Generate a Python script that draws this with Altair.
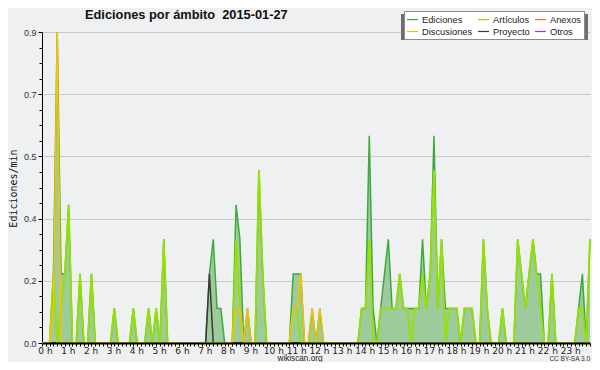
import altair as alt
import pandas as pd

# 10-minute bins over the day (00:00 .. 24:00)
minutes = list(range(0, 1441, 10))

ediciones = [
    0, 0, 0, 0.2, 0.9, 0.2, 0.2, 0.4, 0, 0, 0.2, 0,
    0, 0.2, 0, 0, 0, 0, 0, 0.1, 0, 0, 0, 0,
    0.1, 0, 0, 0, 0.1, 0, 0.1, 0, 0.3, 0, 0, 0,
    0, 0, 0, 0, 0, 0, 0, 0, 0.2, 0.3, 0.1, 0.1,
    0, 0, 0, 0.4, 0.3, 0, 0.1, 0, 0, 0.5, 0.2, 0,
    0, 0, 0, 0, 0, 0, 0.2, 0.2, 0.2, 0, 0, 0.1,
    0, 0.1, 0, 0, 0, 0, 0, 0, 0, 0, 0, 0,
    0.1, 0.1, 0.6, 0.1, 0, 0.1, 0.2, 0.3, 0.1, 0.1, 0.2, 0.1,
    0.1, 0.1, 0.1, 0.1, 0.3, 0.1, 0.2, 0.6, 0.1, 0.3, 0.1, 0.1,
    0.1, 0.1, 0, 0.1, 0.1, 0.1, 0, 0, 0.3, 0.1, 0, 0,
    0, 0.1, 0, 0, 0, 0.3, 0.2, 0.1, 0.2, 0.3, 0.2, 0.2,
    0, 0, 0.2, 0, 0, 0, 0, 0, 0, 0.1, 0.2, 0,
    0.3,
]

articulos = [
    0, 0, 0, 0.2, 0, 0.1, 0.2, 0.4, 0, 0, 0.2, 0,
    0, 0.2, 0, 0, 0, 0, 0, 0.1, 0, 0, 0, 0,
    0.1, 0, 0, 0, 0.1, 0, 0.1, 0, 0.3, 0, 0, 0,
    0, 0, 0, 0, 0, 0, 0, 0, 0, 0, 0, 0,
    0, 0, 0, 0.3, 0.1, 0, 0, 0, 0, 0.5, 0.2, 0,
    0, 0, 0, 0, 0, 0, 0.1, 0.1, 0, 0, 0, 0,
    0, 0, 0, 0, 0, 0, 0, 0, 0, 0, 0, 0,
    0.1, 0.1, 0.3, 0, 0, 0.1, 0.1, 0.1, 0.1, 0.1, 0.2, 0.1,
    0.1, 0, 0.1, 0.1, 0.2, 0.1, 0.2, 0.5, 0.1, 0.3, 0, 0.1,
    0.1, 0.1, 0, 0.1, 0.1, 0.1, 0, 0, 0.3, 0.1, 0, 0,
    0, 0.1, 0, 0, 0, 0.3, 0.2, 0.1, 0.2, 0.3, 0.2, 0.1,
    0, 0, 0.2, 0, 0, 0, 0, 0, 0, 0.1, 0.1, 0,
    0.3,
]

discusiones = [
    0, 0, 0, 0.1, 0.9, 0, 0, 0, 0, 0, 0, 0,
    0, 0, 0, 0, 0, 0, 0, 0, 0, 0, 0, 0,
    0, 0, 0, 0, 0, 0, 0, 0, 0, 0, 0, 0,
    0, 0, 0, 0, 0, 0, 0, 0, 0, 0, 0, 0,
    0, 0, 0, 0.1, 0.1, 0, 0.1, 0, 0, 0, 0, 0,
    0, 0, 0, 0, 0, 0, 0.1, 0.1, 0.2, 0, 0, 0.1,
    0, 0.1, 0, 0, 0, 0, 0, 0, 0, 0, 0, 0,
    0, 0, 0, 0, 0, 0, 0, 0, 0, 0, 0, 0,
    0, 0, 0, 0, 0, 0, 0, 0, 0, 0, 0, 0,
    0, 0, 0, 0, 0, 0, 0, 0, 0, 0, 0, 0,
    0, 0, 0, 0, 0, 0, 0, 0, 0, 0, 0, 0,
    0, 0, 0, 0, 0, 0, 0, 0, 0, 0, 0, 0,
    0,
]

proyecto = [
    0, 0, 0, 0, 0, 0, 0, 0, 0, 0, 0, 0,
    0, 0, 0, 0, 0, 0, 0, 0, 0, 0, 0, 0,
    0, 0, 0, 0, 0, 0, 0, 0, 0, 0, 0, 0,
    0, 0, 0, 0, 0, 0, 0, 0, 0.2, 0, 0, 0,
    0, 0, 0, 0, 0, 0, 0, 0, 0, 0, 0, 0,
    0, 0, 0, 0, 0, 0, 0, 0, 0, 0, 0, 0,
    0, 0, 0, 0, 0, 0, 0, 0, 0, 0, 0, 0,
    0, 0, 0, 0, 0, 0, 0, 0, 0, 0, 0, 0,
    0, 0, 0, 0, 0, 0, 0, 0, 0, 0, 0, 0,
    0, 0, 0, 0, 0, 0, 0, 0, 0, 0, 0, 0,
    0, 0, 0, 0, 0, 0, 0, 0, 0, 0, 0, 0,
    0, 0, 0, 0, 0, 0, 0, 0, 0, 0, 0, 0,
    0,
]

anexos = [
    0, 0, 0, 0, 0, 0, 0, 0, 0, 0, 0, 0,
    0, 0, 0, 0, 0, 0, 0, 0, 0, 0, 0, 0,
    0, 0, 0, 0, 0, 0, 0, 0, 0, 0, 0, 0,
    0, 0, 0, 0, 0, 0, 0, 0, 0, 0, 0, 0,
    0, 0, 0, 0, 0, 0, 0, 0, 0, 0, 0, 0,
    0, 0, 0, 0, 0, 0, 0, 0, 0, 0, 0, 0,
    0, 0, 0, 0, 0, 0, 0, 0, 0, 0, 0, 0,
    0, 0, 0, 0, 0, 0, 0, 0, 0, 0, 0, 0,
    0, 0, 0, 0, 0, 0, 0, 0, 0, 0, 0, 0,
    0, 0, 0, 0, 0, 0, 0, 0, 0, 0, 0, 0,
    0, 0, 0, 0, 0, 0, 0, 0, 0, 0, 0, 0,
    0, 0, 0, 0, 0, 0, 0, 0, 0, 0, 0, 0,
    0,
]

otros = [
    0, 0, 0, 0, 0, 0, 0, 0, 0, 0, 0, 0,
    0, 0, 0, 0, 0, 0, 0, 0, 0, 0, 0, 0,
    0, 0, 0, 0, 0, 0, 0, 0, 0, 0, 0, 0,
    0, 0, 0, 0, 0, 0, 0, 0, 0, 0, 0, 0,
    0, 0, 0, 0, 0, 0, 0, 0, 0, 0, 0, 0,
    0, 0, 0, 0, 0, 0, 0, 0, 0, 0, 0, 0,
    0, 0, 0, 0, 0, 0, 0, 0, 0, 0, 0, 0,
    0, 0, 0, 0, 0, 0, 0, 0, 0, 0, 0, 0,
    0, 0, 0, 0, 0, 0, 0, 0, 0, 0, 0, 0,
    0, 0, 0, 0, 0, 0, 0, 0, 0, 0, 0, 0,
    0, 0, 0, 0, 0, 0, 0, 0, 0, 0, 0, 0,
    0, 0, 0, 0, 0, 0, 0, 0, 0, 0, 0, 0,
    0,
]

# legend order (filled column by column: 2 rows x 3 columns)
series_names = ["Ediciones", "Discusiones", "Artículos", "Proyecto", "Anexos", "Otros"]
series_colors = ["#3daa3d", "#f7c200", "#97e000", "#3a3a3a", "#ff6a33", "#8a3ff0"]
draw_order = ["Ediciones", "Anexos", "Otros", "Proyecto", "Artículos", "Discusiones"]

title_text = "Ediciones por ámbito\u00a0\u00a02015-01-27"
footer_text = "wikiscan.org"
license_text = "CC BY-SA 3.0"
y_title = "Ediciones/min"

wide = pd.DataFrame({
    "minuto": minutes,
    "Ediciones": ediciones,
    "Artículos": articulos,
    "Anexos": anexos,
    "Discusiones": discusiones,
    "Proyecto": proyecto,
    "Otros": otros,
})
wide["hora"] = wide["minuto"] / 60.0
long = wide.melt(id_vars=["minuto", "hora"], value_vars=series_names,
                 var_name="serie", value_name="valor")

x_ticks = [m / 60.0 for m in minutes]
y_ticks = [round(k * 0.045, 3) for k in range(21)]
major_test = "round(datum.value / 0.045) % 4 == 0"

x_enc = alt.X(
    "hora:Q",
    scale=alt.Scale(domain=[0, 24], nice=False, zero=False),
    axis=alt.Axis(
        values=x_ticks,
        labelExpr="datum.value % 1 == 0 && datum.value < 24 ? datum.value + ' h' : ''",
        title=None,
        labelFont="DejaVu Sans",
        labelFontSize=9,
        labelColor="#222222",
        labelOffset=3,
        labelPadding=0,
        labelOverlap=False,
        labelFlush=False,
        tickSize=3,
        tickColor="#000000",
        tickWidth=1,
        domainColor="#000000",
        domainWidth=2,
        grid=False,
        zindex=1,
    ),
)

y_enc = alt.Y(
    "valor:Q",
    scale=alt.Scale(domain=[0, 0.9], nice=False),
    axis=alt.Axis(
        values=y_ticks,
        labelExpr=major_test + " ? format(datum.value, '.1f') : ''",
        title=y_title,
        titleFont="DejaVu Sans Mono",
        titleFontSize=10,
        titleFontWeight="normal",
        titleColor="#111111",
        titleX=-29,
        titleY=156,
        titleAngle=270,
        titleAlign="center",
        titleBaseline="middle",
        labelFont="Liberation Sans",
        labelFontSize=9,
        labelColor="#333333",
        labelPadding=2,
        labelOverlap=False,
        labelFlush=False,
        tickColor="#000000",
        tickSize={"condition": {"test": major_test, "value": 4}, "value": 3},
        domainColor="#000000",
        domainWidth=1,
        grid=True,
        gridColor="#c8c8c8",
        gridWidth=1,
        gridOpacity={"condition": {"test": major_test, "value": 1}, "value": 0},
    ),
)

legend = alt.Legend(
    orient="none",
    legendX=362,
    legendY=-21,
    columns=3,
    title=None,
    symbolType="stroke",
    symbolSize=121,
    symbolStrokeWidth=1.2,
    labelFont="Liberation Sans",
    labelFontSize=9.3,
    labelColor="#222222",
    labelOffset=3,
    fillColor="#ffffff",
    strokeColor="#8a8a8a",
    padding=2,
    rowPadding=-1,
    columnPadding=2,
    zindex=2,
)

color_enc = alt.Color(
    "serie:N",
    scale=alt.Scale(domain=series_names, range=series_colors),
    legend=legend,
)

area = alt.Chart(long).transform_filter(
    alt.datum.serie == "Ediciones"
).mark_area(color="#9ecb9c", interpolate="linear").encode(x=x_enc, y=y_enc)

line_layers = []
for name in draw_order:
    w = 1.8 if name == "Artículos" else 1.5
    line_layers.append(
        alt.Chart(long).transform_filter(alt.datum.serie == name)
        .mark_line(strokeWidth=w, interpolate="linear")
        .encode(x=x_enc, y=y_enc, color=color_enc)
    )

one = pd.DataFrame({"k": [0]})
shadow = alt.Chart(one).mark_rect(color="#6e6e6e").encode(
    x=alt.value(359), x2=alt.value(546), y=alt.value(-18), y2=alt.value(8)
)

title = alt.Chart(pd.DataFrame({"t": [title_text]})).mark_text(
    font="Liberation Sans", fontSize=12.8, fontWeight="bold", color="#111111",
    align="left", baseline="alphabetic"
).encode(text="t:N", x=alt.value(43), y=alt.value(-13))

footer = alt.Chart(pd.DataFrame({"t": [footer_text]})).mark_text(
    font="Liberation Sans", fontSize=8.2, color="#222222",
    align="center", baseline="alphabetic"
).encode(text="t:N", x=alt.value(258), y=alt.value(329))

lic = alt.Chart(pd.DataFrame({"t": [license_text]})).mark_text(
    font="Liberation Sans", fontSize=6.5, color="#333333",
    align="right", baseline="alphabetic"
).encode(text="t:N", x=alt.value(548), y=alt.value(329))

chart = alt.layer(area, *line_layers, shadow, title, footer, lic).properties(
    width=548,
    height=311,
    padding={"left": 34, "top": 24, "right": 2, "bottom": 19},
    autosize=alt.AutoSizeParams(type="none"),
    background="#eff0f1",
).configure_view(strokeWidth=0)

chart.save("out.html", embed_options={"renderer": "svg", "actions": False})
